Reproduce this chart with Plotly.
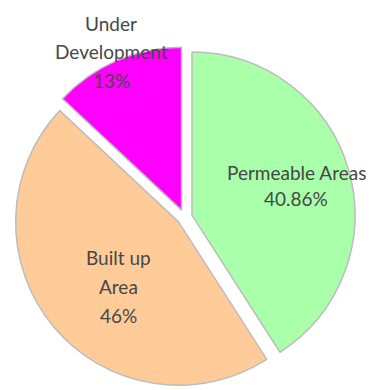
import plotly.graph_objects as go

labels = ["Permeable Areas", "Built up Area", "Under Development"]
values = [40.86, 46, 13]
label_lines = [["Permeable Areas", "40.86%"], ["Built up", "Area", "46%"], ["Under", "Development", "13%"]]
colors = ["#AAFFAA", "#FFCC99", "#FF00FF"]

W, H = 371, 390
# label centres (pixels) and line spacing for each slice
label_pos = [(296, 185), (118, 286), (111, 52)]
line_gap = [26, 29, 28.5]

fig = go.Figure(go.Pie(
    labels=labels,
    values=values,
    sort=False,
    direction="clockwise",
    rotation=0,
    pull=[0.047, 0.047, 0.047],
    marker=dict(colors=colors, line=dict(color="#BDBDBD", width=1.5)),
    textinfo="none",
    hoverinfo="label+percent",
    showlegend=False,
    domain=dict(x=[13.9 / W, 355.3 / W], y=[1 - 387.9 / H, 1 - 46.5 / H]),
))

for lines, (px, py), gap in zip(label_lines, label_pos, line_gap):
    n = len(lines)
    for i, ln in enumerate(lines):
        yy = py + (i - (n - 1) / 2) * gap
        fig.add_annotation(
            x=px / W, y=1 - yy / H, xref="paper", yref="paper",
            text=ln, showarrow=False, xanchor="center", yanchor="middle",
            font=dict(family="Lato", size=19, color="#474747"),
        )

fig.update_layout(
    width=W, height=H,
    margin=dict(l=0, r=0, t=0, b=0),
    paper_bgcolor="white",
    plot_bgcolor="white",
)

fig.write_html("out.html")
